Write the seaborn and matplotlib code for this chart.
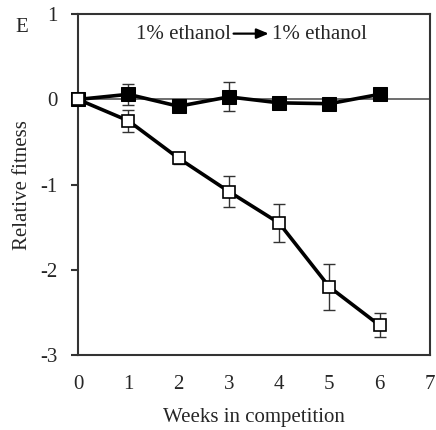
import matplotlib
matplotlib.use("Agg")
import matplotlib.pyplot as plt
import seaborn as sns
import pandas as pd

weeks = [0, 1, 2, 3, 4, 5, 6]
evolved = [0.0, 0.06, -0.08, 0.03, -0.04, -0.05, 0.06]
evolved_err = [0.0, 0.12, 0.05, 0.17, 0.04, 0.05, 0.07]
ancestor = [0.0, -0.25, -0.69, -1.08, -1.45, -2.20, -2.65]
ancestor_err = [0.0, 0.13, 0.07, 0.18, 0.22, 0.27, 0.14]
x_ticks = [0, 1, 2, 3, 4, 5, 6, 7]
y_ticks = [-3, -2, -1, 0, 1]
cond_from = "1% ethanol"
cond_to = "1% ethanol"

sns.set_theme(style="white")
plt.rcParams['font.family'] = ['Liberation Serif', 'DejaVu Serif']

fig = plt.figure(figsize=(4.36, 4.30), dpi=100)
ax = fig.add_axes([0.179, 0.174, 0.807, 0.793])

df_e = pd.DataFrame({"week": weeks, "fit": evolved})
df_a = pd.DataFrame({"week": weeks, "fit": ancestor})

ax.axhline(0, color="#555555", lw=1.2, zorder=1)

ax.errorbar(weeks, evolved, yerr=evolved_err, fmt="none", ecolor="#333333",
            elinewidth=1, capsize=4, zorder=2)
sns.lineplot(data=df_e, x="week", y="fit", ax=ax, color="black", lw=2.6,
             marker="s", markersize=9.5, markerfacecolor="black",
             markeredgecolor="black", zorder=3, clip_on=False)

ax.errorbar(weeks, ancestor, yerr=ancestor_err, fmt="none", ecolor="#333333",
            elinewidth=1, capsize=4, zorder=4)
sns.lineplot(data=df_a, x="week", y="fit", ax=ax, color="black", lw=2.6,
             marker="s", markersize=9, markerfacecolor="white",
             markeredgecolor="black", markeredgewidth=1.2, zorder=5,
             clip_on=False)

ax.set_xlim(0, 7)
ax.set_ylim(-3, 1)
ax.set_xticks(x_ticks)
ax.set_yticks(y_ticks)
ax.set_xticklabels([str(t) for t in x_ticks])
ax.set_yticklabels([str(t) for t in y_ticks])
ax.tick_params(axis="x", length=0, pad=14, labelsize=15)
ax.tick_params(axis="y", length=5, width=1.5, direction="out", left=True,
               pad=10, labelsize=15, color="#333333")
for s in ax.spines.values():
    s.set_linewidth(1.5)
    s.set_color("#333333")
    s.set_zorder(2.5)

ax.set_xlabel("Weeks in competition", fontsize=15, labelpad=10)
ax.set_ylabel("Relative fitness", fontsize=15, labelpad=6)

ty = 0.94
ax.text(0.434, ty, cond_from, transform=ax.transAxes, ha="right", va="center",
        fontsize=15)
ax.text(0.551, ty, cond_to, transform=ax.transAxes, ha="left", va="center",
        fontsize=15)
ax.annotate("", xy=(0.542, ty + 0.003), xytext=(0.442, ty + 0.003),
            xycoords="axes fraction", textcoords="axes fraction",
            arrowprops=dict(arrowstyle="-|>,head_length=0.6,head_width=0.25",
                            color="black", lw=1.6, shrinkA=0, shrinkB=0))
fig.text(0.05, 0.935, "E", fontsize=15, ha="center", va="center")

fig.savefig("out.png", dpi=100)
